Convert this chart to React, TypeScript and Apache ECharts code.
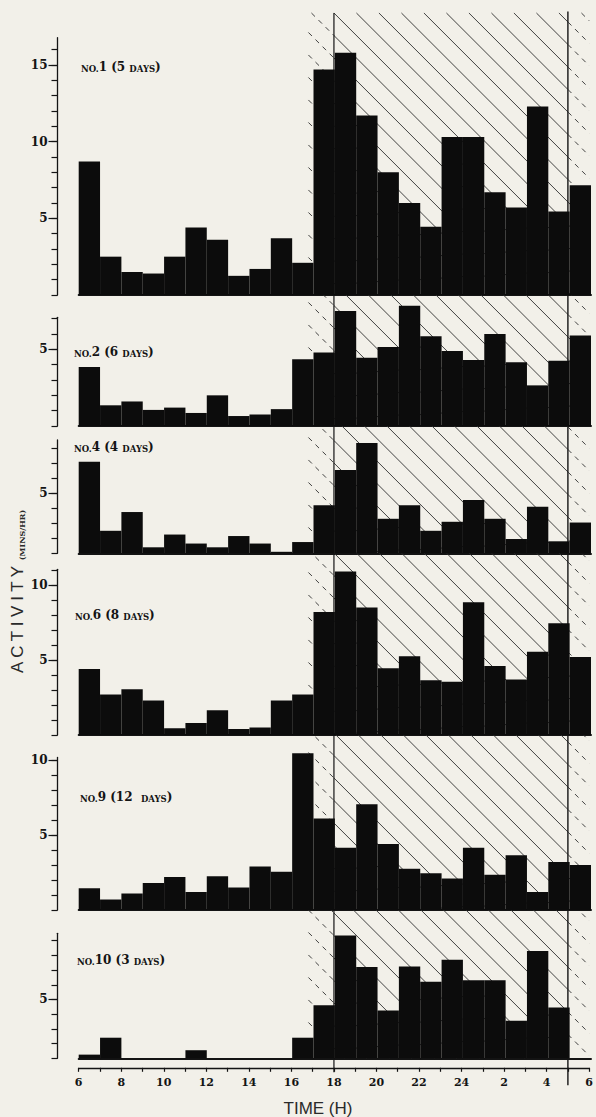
import React, { useEffect, useRef } from "react";
import * as echarts from "echarts";

// ---------- data ----------
const hourStarts = [6, 7, 8, 9, 10, 11, 12, 13, 14, 15, 16, 17, 18, 19, 20, 21, 22, 23, 24, 25, 26, 27, 28, 29];
const hourCategories = hourStarts.map((h) => String(h));

const panelNumbers = ["1", "2", "4", "6", "9", "10"];
const panelDays = ["5", "6", "4", "8", "12 ", "3"];

const no1Activity = [8.7, 2.5, 1.5, 1.4, 2.5, 4.4, 3.6, 1.25, 1.7, 3.7, 2.1, 14.7, 15.8, 11.7, 8.0, 6.0, 4.45, 10.3, 10.3, 6.7, 5.7, 12.3, 5.45, 7.15];
const no2Activity = [3.85, 1.35, 1.6, 1.05, 1.2, 0.85, 2.0, 0.65, 0.75, 1.1, 4.35, 4.8, 7.5, 4.45, 5.15, 7.85, 5.85, 4.9, 4.3, 6.0, 4.15, 2.65, 4.25, 5.9];
const no4Activity = [7.1, 2.5, 3.75, 1.4, 2.25, 1.65, 1.4, 2.15, 1.65, 1.1, 1.75, 4.2, 6.55, 8.35, 3.3, 4.2, 2.5, 3.1, 4.55, 3.3, 1.95, 4.1, 1.8, 3.05];
const no6Activity = [4.4, 2.7, 3.05, 2.3, 0.45, 0.8, 1.65, 0.4, 0.5, 2.3, 2.7, 8.2, 10.9, 8.5, 4.45, 5.25, 3.65, 3.55, 8.85, 4.6, 3.7, 5.55, 7.45, 5.2];
const no9Activity = [1.45, 0.7, 1.1, 1.8, 2.2, 1.2, 2.25, 1.5, 2.9, 2.55, 10.45, 6.1, 4.15, 7.05, 4.4, 2.75, 2.45, 2.1, 4.15, 2.35, 3.65, 1.2, 3.2, 3.0];
const no10Activity = [1.25, 2.4, 1, 1, 1, 1.55, 1, 1, 1, 1, 2.4, 4.6, 9.35, 7.2, 4.25, 7.25, 6.2, 7.7, 6.3, 6.3, 3.55, 8.3, 4.45, 1];

const panelActivity = [no1Activity, no2Activity, no4Activity, no6Activity, no9Activity, no10Activity];
const panelValueRange = [[0, 16.78], [0, 7.09], [1, 8.55], [0, 11.05], [0, 10.17], [1, 9.5]];
const panelLabelTicks = [[5, 10, 15], [5], [5], [5, 10], [5, 10], [5]];

const timeTicks = [6, 7, 8, 9, 10, 11, 12, 13, 14, 15, 16, 17, 18, 19, 20, 21, 22, 23, 24, 25, 26, 27, 28, 29, 30];
const timeLabelTicks = [6, 8, 10, 12, 14, 16, 18, 20, 22, 24, 26, 28, 30];

const nightHours = [18, 29];
const twilightHours = [[16.8, 18], [29, 30]];

// ---------- layout ----------
const CHART_W = 596;
const CHART_H = 1117;
const PLOT_LEFT = 78.7;
const PLOT_RIGHT = 5;
const AXIS_OFFSET = 21.2;
const panelBoxes = [
  [37.7, 295],
  [317.3, 426],
  [440, 553.3],
  [569.3, 735],
  [757.5, 910],
  [933.3, 1058.3],
];
const labelPos = [
  [81, 67],
  [74, 352],
  [74, 447],
  [75, 615],
  [80, 797],
  [77, 960],
];
const HATCH_TOP = 13;
const SERIF = "'DejaVu Serif', 'Liberation Serif', serif";
const SANS = "'Liberation Sans', Arial, sans-serif";
const INK = "#141414";
const BG = "#f2f0e9";

export default function App() {
  const ref = useRef<HTMLDivElement>(null);

  useEffect(() => {
    document.body.style.margin = "0";
    const chart = echarts.init(ref.current as HTMLDivElement, null, { renderer: "svg" });

    const grids: any[] = [];
    const xAxes: any[] = [];
    const yAxes: any[] = [];
    const series: any[] = [];

    panelActivity.forEach((vals, i) => {
      const [top, bottom] = panelBoxes[i];
      const [min, max] = panelValueRange[i];
      grids.push({ left: PLOT_LEFT, right: PLOT_RIGHT, top, height: bottom - top });
      xAxes.push({
        type: "category",
        gridIndex: i,
        data: hourCategories,
        boundaryGap: true,
        axisLine: { show: true, onZero: false, lineStyle: { color: INK, width: 2 } },
        axisTick: { show: false },
        axisLabel: { show: false },
        splitLine: { show: false },
      });
      const minor: number[] = [];
      for (let v = Math.ceil(min); v <= Math.floor(max); v++) minor.push(v);
      yAxes.push({
        type: "value",
        gridIndex: i,
        min,
        max,
        position: "left",
        offset: AXIS_OFFSET,
        axisLine: { show: true, onZero: false, lineStyle: { color: INK, width: 1.3 } },
        axisTick: { show: true, customValues: minor, length: 6, lineStyle: { color: INK, width: 1.2 } },
        axisLabel: { show: false },
        splitLine: { show: false },
      });
      yAxes.push({
        type: "value",
        gridIndex: i,
        min,
        max,
        position: "left",
        offset: AXIS_OFFSET,
        axisLine: { show: false },
        axisTick: { show: true, customValues: panelLabelTicks[i], length: 9, lineStyle: { color: INK, width: 1.2 } },
        axisLabel: {
          show: true,
          customValues: panelLabelTicks[i],
          margin: 10,
          color: INK,
          fontFamily: SERIF,
          fontWeight: "bold",
          fontSize: 12,
        },
        splitLine: { show: false },
      });
      series.push({
        type: "bar",
        xAxisIndex: i,
        yAxisIndex: 2 * i,
        data: vals,
        barCategoryGap: "0%",
        barGap: "0%",
        itemStyle: { color: "#0c0c0c" },
        clip: min > 0,
        z: 3,
        silent: true,
      });
    });

    // overlay grid: hatching + time axis
    const overlayIndex = panelActivity.length;
    grids.push({ left: PLOT_LEFT, right: PLOT_RIGHT, top: HATCH_TOP, bottom: CHART_H - panelBoxes[5][1] });
    xAxes.push({
      type: "value",
      gridIndex: overlayIndex,
      min: 6,
      max: 30,
      position: "bottom",
      offset: 9.5,
      axisLine: { show: true, onZero: false, lineStyle: { color: INK, width: 1.3 } },
      axisTick: { show: true, customValues: timeTicks, length: 4, lineStyle: { color: INK, width: 1.2 } },
      axisLabel: {
        show: true,
        customValues: timeLabelTicks,
        formatter: (v: number) => String(v > 24 ? v - 24 : v),
        margin: 9,
        color: INK,
        fontFamily: SERIF,
        fontWeight: "bold",
        fontSize: 11,
      },
      splitLine: { show: false },
    });
    yAxes.push({ type: "value", gridIndex: overlayIndex, min: 0, max: 1, show: false });

    const hatchBands = [
      [twilightHours[0][0], twilightHours[0][1], 1],
      [nightHours[0], nightHours[1], 0],
      [twilightHours[1][0], twilightHours[1][1], 1],
    ];

    series.push({
      type: "custom",
      xAxisIndex: overlayIndex,
      yAxisIndex: yAxes.length - 1,
      data: hatchBands,
      silent: true,
      clip: false,
      z: 1,
      renderItem: (params: any, api: any) => {
        const x0 = api.value(0);
        const x1 = api.value(1);
        const dashed = api.value(2) === 1;
        const tl = api.coord([x0, 1]);
        const br = api.coord([x1, 0]);
        const L = tl[0], R = br[0], T = tl[1], B = br[1];
        const anchorX = api.coord([nightHours[0], 1])[0];
        const sp = 22.5;
        const H = B - T;
        const children: any[] = [];
        const kMin = Math.floor((L - H - anchorX) / sp) - 1;
        const kMax = Math.ceil((R - anchorX) / sp) + 1;
        for (let k = kMin; k <= kMax; k++) {
          const c = anchorX + k * sp;
          const y1 = Math.max(T, T + L - c);
          const y2 = Math.min(B, T + R - c);
          if (y2 - y1 > 0.5) {
            const style: any = { stroke: "#2e2e2e", lineWidth: 0.9 };
            if (dashed) style.lineDash = [5, 5];
            children.push({
              type: "line",
              shape: { x1: c + (y1 - T), y1, x2: c + (y2 - T), y2 },
              style,
            });
          }
        }
        if (!dashed) {
          children.push({
            type: "line",
            shape: { x1: L, y1: T, x2: L, y2: B + 14 },
            style: { stroke: INK, lineWidth: 1.2 },
          });
          children.push({
            type: "line",
            shape: { x1: R, y1: T - 1.5, x2: R, y2: B + 27 },
            style: { stroke: INK, lineWidth: 1.4 },
          });
        }
        return { type: "group", children };
      },
    });

    const panelLabels = panelNumbers.map((n, i) => ({
      type: "text",
      x: labelPos[i][0],
      y: labelPos[i][1],
      silent: true,
      style: {
        text: `{s|NO.}{b|${n} (${panelDays[i]} }{s|DAYS}{b|)}`,
        fill: INK,
        align: "left",
        textAlign: "left",
        verticalAlign: "middle",
        textVerticalAlign: "middle",
        rich: {
          s: { fontFamily: SERIF, fontWeight: "bold", fontSize: 8.5, fill: INK, verticalAlign: "bottom" },
          b: { fontFamily: SERIF, fontWeight: "bold", fontSize: 12, fill: INK, verticalAlign: "bottom" },
        },
      },
    }));

    chart.setOption({
      animation: false,
      backgroundColor: BG,
      grid: grids,
      xAxis: xAxes,
      yAxis: yAxes,
      series,
      graphic: [
        ...panelLabels,
        {
          type: "text",
          x: 17,
          y: 592,
          rotation: Math.PI / 2,
          silent: true,
          style: {
            text: "{a|A C T I V I T Y}{g|  }{s|(MINS/HR)}",
            fill: "#2a2a2a",
            align: "center",
            textAlign: "center",
            verticalAlign: "middle",
            textVerticalAlign: "middle",
            rich: {
              a: { fontFamily: SANS, fontSize: 17, fill: "#2a2a2a", verticalAlign: "bottom" },
              g: { fontFamily: SANS, fontSize: 8, fill: "#2a2a2a", verticalAlign: "bottom" },
              s: { fontFamily: SERIF, fontWeight: "bold", fontSize: 8, fill: "#2a2a2a", verticalAlign: "bottom" },
            },
          },
        },
        {
          type: "text",
          x: 318,
          y: 1108,
          silent: true,
          style: {
            text: "TIME (H)",
            fontFamily: SANS,
            fontSize: 17,
            fill: "#2a2a2a",
            align: "center",
            textAlign: "center",
            verticalAlign: "middle",
            textVerticalAlign: "middle",
          },
        },
      ],
    });

    return () => {
      chart.dispose();
    };
  }, []);

  return (
    <div
      ref={ref}
      style={{ position: "absolute", left: 0, top: 0, width: CHART_W, height: CHART_H, background: BG }}
    />
  );
}
